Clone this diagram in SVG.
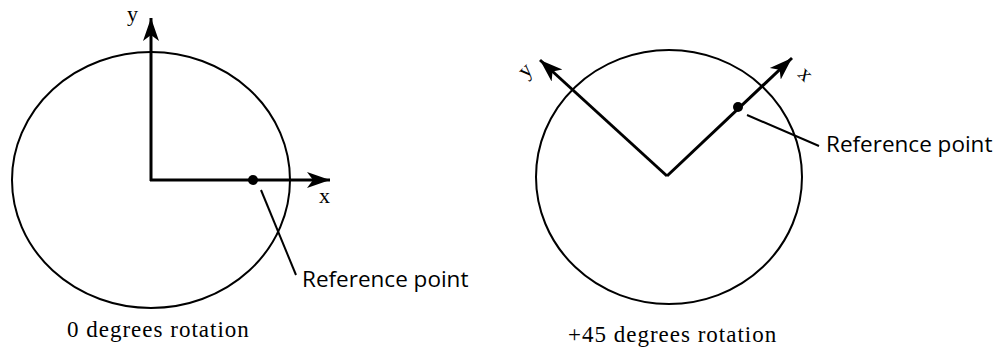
<svg xmlns="http://www.w3.org/2000/svg" width="1006" height="351" viewBox="0 0 1006 351">
<style>
.circ{fill:none;stroke:#000;stroke-width:2}
.axis{stroke:#000;stroke-width:3;fill:none}
.lead{stroke:#000;stroke-width:2;fill:none}
.lbl{font-family:"Open Sans",sans-serif;font-size:22.5px;fill:#000}
.cap{font-family:"Liberation Serif",serif;font-size:23px;letter-spacing:1px;fill:#000}
.ax{font-family:"Liberation Serif",serif;font-size:22px;fill:#000}
</style>
<defs>
<marker id="ah" markerUnits="userSpaceOnUse" markerWidth="26" markerHeight="18" refX="23" refY="9" orient="auto">
<path d="M0,1 L23,9 L0,17 L6,9 Z" fill="#000"/>
</marker>
</defs>
<g id="left">
<ellipse class="circ" cx="151" cy="180" rx="139" ry="128"/>
<g id="left-axes">
<line class="axis" x1="151" y1="181" x2="151" y2="18" marker-end="url(#ah)"/>
<line class="axis" x1="150" y1="180" x2="330" y2="180" marker-end="url(#ah)"/>
</g>
<circle cx="253" cy="180" r="5" fill="#000"/>
<text class="ax" x="127" y="21">y</text>
<text class="ax" x="319" y="203">x</text>
<line class="lead" x1="261" y1="190" x2="296" y2="275"/>
<text class="lbl" x="302" y="287">Reference point</text>
<text class="cap" x="67" y="337">0 degrees rotation</text>
</g>
<g id="right">
<ellipse class="circ" cx="669" cy="177" rx="133" ry="127"/>
<g id="right-axes">
<line class="axis" x1="667" y1="176" x2="540" y2="60" marker-end="url(#ah)"/>
<line class="axis" x1="667" y1="176" x2="792" y2="58" marker-end="url(#ah)"/>
</g>
<circle cx="738" cy="107" r="5" fill="#000"/>
<text class="ax" x="0" y="0" transform="translate(526,79) rotate(-45)">y</text>
<text class="ax" x="0" y="0" transform="translate(797,75) rotate(45)">x</text>
<line class="lead" x1="747" y1="115" x2="819" y2="146"/>
<text class="lbl" x="826" y="152">Reference point</text>
<text class="cap" x="568" y="342">+45 degrees rotation</text>
</g>
</svg>
